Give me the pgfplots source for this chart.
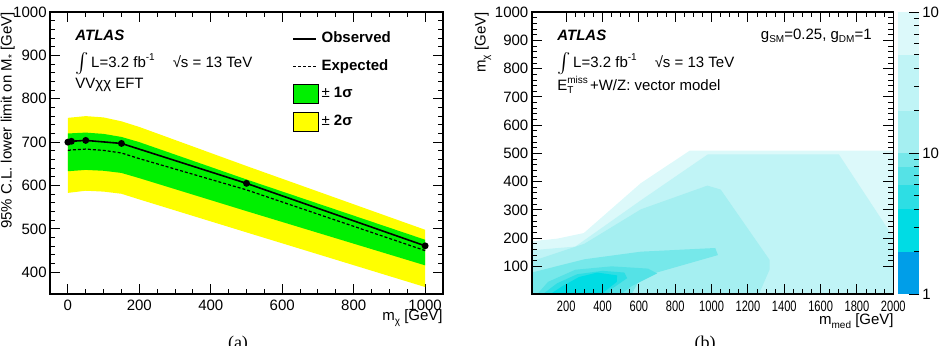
\documentclass[border=0pt]{standalone}
\usepackage{pgfplots}
\pgfplotsset{compat=1.18}
\usepackage{fontspec}
\setmainfont{Liberation Sans}
\newfontfamily\seriffont{Liberation Serif}
\definecolor{yel}{RGB}{255,255,0}
\definecolor{grn}{RGB}{0,240,0}
\definecolor{cA}{RGB}{0,158,232}
\definecolor{cB}{RGB}{0,220,228}
\definecolor{cC}{RGB}{45,222,228}
\definecolor{cD}{RGB}{85,226,230}
\definecolor{cE}{RGB}{118,232,234}
\definecolor{cF}{RGB}{165,239,241}
\definecolor{cG}{RGB}{192,244,246}
\definecolor{cH}{RGB}{220,249,250}
\newcommand\fs{\fontsize{7.5}{9}\selectfont}
\newcommand\sm{\fontsize{5}{6}\selectfont}
\newcommand\sub[1]{\raisebox{-0.45ex}{\sm #1}}
\newcommand\sups[1]{\raisebox{0.9ex}{\sm #1}}
\newcommand\PX[2]{({#1*0.5pt},{(346-#2)*0.5pt})}
\pgfplotsset{
  rootstyle/.style={
    scale only axis, anchor=south west,
    tick align=inside, major tick length=5pt, minor tick length=2.5pt,
    axis line style={line width=0.8pt},
    every tick/.style={black, line width=0.5pt},
    tick label style={font=\fs},
    /pgf/number format/assume math mode=true,
    /pgf/number format/set thousands separator={},
    scaled ticks=false,
    xticklabel style={inner sep=0pt, yshift=-3pt},
    yticklabel style={inner sep=0pt, xshift=-1.5pt},
  },
  lineleg/.style={legend image code/.code={\draw[##1] (0pt,0pt) -- (11.5pt,0pt);}},
  boxleg/.style={legend image code/.code={\draw[##1] (0pt,-4.75pt) rectangle (12.5pt,4.75pt);}},
}
\begin{document}
\begin{tikzpicture}
\path[use as bounding box] (0,0) rectangle (469.5pt,173pt);
% ---------------- left panel ----------------
\begin{axis}[rootstyle,
  at={(25pt,26pt)}, width=196.5pt, height=141pt,
  xmin=-50, xmax=1050, ymin=350, ymax=1000,
  xtick={0,200,...,1000}, ytick={400,500,...,1000},
  minor x tick num=3, minor y tick num=4,
  legend style={at={(0.616,0.94)}, anchor=north west, draw=none, fill=none,
     font=\fs, row sep=4.0pt, inner sep=0pt, nodes={inner sep=1.4pt}},
  legend cell align=left,
]
\addplot[fill=yel, draw=none, forget plot] coordinates {
 (0,756) (50,760) (100,757) (150,748) (200,735) (500,645) (1000,498)
 (1000,366) (500,492) (200,568) (150,581) (100,586) (50,588) (0,583)} -- cycle;
\addplot[fill=grn, draw=none, forget plot] coordinates {
 (0,720) (50,722) (100,719) (150,712) (200,700) (500,614) (1000,475)
 (1000,416) (500,541) (200,617) (150,629) (100,634) (50,636) (0,633)} -- cycle;
\addplot[black, line width=0.6pt, dash pattern=on 1.5pt off 1pt, forget plot] coordinates {
 (0,681) (10,682) (50,684) (100,681) (150,675) (200,662) (500,590) (1000,450)};
\addplot[black, line width=0.8pt, mark=*, mark size=1.3pt, forget plot] coordinates {
 (0,700) (10,702) (50,704) (150,697) (500,605) (1000,461)};
\addlegendimage{black, line width=0.8pt, lineleg}
\addlegendentry{\textbf{Observed}}
\addlegendimage{black, line width=0.6pt, dash pattern=on 1.5pt off 1pt, lineleg}
\addlegendentry{\textbf{Expected}}
\addlegendimage{fill=grn, draw=black, line width=0.5pt, boxleg}
\addlegendentry{± \textbf{1σ}}
\addlegendimage{fill=yel, draw=black, line width=0.5pt, boxleg}
\addlegendentry{± \textbf{2σ}}
\end{axis}
% ---------------- right panel ----------------
\begin{axis}[rootstyle,
  at={(265.85pt,25.85pt)}, width=180.8pt, height=141pt,
  xmin=10, xmax=2000, ymin=1, ymax=1000,
  xtick={200,400,...,2000}, ytick={100,200,...,1000},
  minor x tick num=3, minor y tick num=4,
  xticklabel={\scalebox{0.74}[1]{\pgfmathprintnumber{\tick}}},
  axis on top,
]
\addplot[fill=cH, draw=none] coordinates {
 (10,1) (10,189) (150,198) (297,218) (611,395) (880,510) (2000,510) (2000,1)} -- cycle;
\addplot[fill=cG, draw=none] coordinates {
 (10,1) (10,157) (250,170) (611,334) (980,497) (1700,497) (1985,218) (2000,212) (2000,1)} -- cycle;
\addplot[fill=cF, draw=none] coordinates {
 (10,1) (10,118) (300,180) (611,302) (977,386) (1050,372) (1320,122) (1320,90) (1260,1)} -- cycle;
\addplot[fill=cE, draw=none] coordinates {
 (10,1) (10,78) (300,125) (611,152) (1020,165) (1035,140) (611,62) (560,1)} -- cycle;
\addplot[fill=cD, draw=none] coordinates {
 (40,1) (100,45) (250,88) (450,100) (650,92) (700,75) (560,30) (500,1)} -- cycle;
\addplot[fill=cC, draw=none] coordinates {
 (70,1) (150,40) (260,72) (400,84) (520,78) (535,58) (450,20) (430,1)} -- cycle;
\addplot[fill=cB, draw=none] coordinates {
 (110,1) (180,30) (270,62) (370,78) (480,68) (478,45) (410,10) (400,1)} -- cycle;
\end{axis}
% ---------------- colour bar ----------------
\begin{axis}[rootstyle,
  at={(448.85pt,25.85pt)}, width=10.65pt, height=141pt,
  xmin=0, xmax=1, ymode=log, ymin=1, ymax=100,
  xtick=\empty, ytick={1,10,100}, yticklabels={1,10,100},
  ytick pos=right, axis line style={draw=none},
  yticklabel style={anchor=west, xshift=3pt},
  axis on top,
]
\addplot[fill=cA, draw=none] coordinates {(0,1) (1,1) (1,2) (0,2)} -- cycle;
\addplot[fill=cB, draw=none] coordinates {(0,2) (1,2) (1,4) (0,4)} -- cycle;
\addplot[fill=cC, draw=none] coordinates {(0,4) (1,4) (1,6) (0,6)} -- cycle;
\addplot[fill=cD, draw=none] coordinates {(0,6) (1,6) (1,8) (0,8)} -- cycle;
\addplot[fill=cE, draw=none] coordinates {(0,8) (1,8) (1,10) (0,10)} -- cycle;
\addplot[fill=cF, draw=none] coordinates {(0,10) (1,10) (1,20) (0,20)} -- cycle;
\addplot[fill=cG, draw=none] coordinates {(0,20) (1,20) (1,50) (0,50)} -- cycle;
\addplot[fill=cH, draw=none] coordinates {(0,50) (1,50) (1,100) (0,100)} -- cycle;
\end{axis}
% ---------------- texts ----------------
\begin{scope}[every node/.style={inner sep=0pt, font=\fs}]
% left
\node[anchor=west] at \PX{75}{35} {\textbf{\itshape ATLAS}};
\node[anchor=west] at \PX{75}{64} {$\int$\,L=3.2 fb\sups{-1}\hspace{1.2em}√s = 13 TeV};
\node[anchor=west] at \PX{75}{85} {VVχχ EFT};
\node[rotate=90, anchor=east] at \PX{8}{12} {95\% C.L. lower limit on M\sub{*} [GeV]};
\node[anchor=east] at \PX{443}{318} {m\sub{χ} [GeV]};
% right
\node[anchor=west] at \PX{557}{35} {\textbf{\itshape ATLAS}};
\node[anchor=west] at \PX{557}{64} {$\int$\,L=3.2 fb\sups{-1}\hspace{1.2em}√s = 13 TeV};
\node[anchor=west] at \PX{557}{85} {E\rlap{\sups{miss}}\sub{T}\hspace{1.1em}+W/Z: vector model};
\node[anchor=east] at \PX{872}{36} {g\sub{SM}=0.25, g\sub{DM}=1};
\node[rotate=90, anchor=east] at \PX{483}{12} {m\sub{χ} [GeV]};
\node[anchor=east] at \PX{894}{321} {m\sub{med} [GeV]};
% panel captions
\node[anchor=north, font=\seriffont\fontsize{9}{10}\selectfont] at \PX{238}{336} {(a)};
\node[anchor=north, font=\seriffont\fontsize{9}{10}\selectfont] at \PX{705}{336} {(b)};
\end{scope}
\end{tikzpicture}
\end{document}
